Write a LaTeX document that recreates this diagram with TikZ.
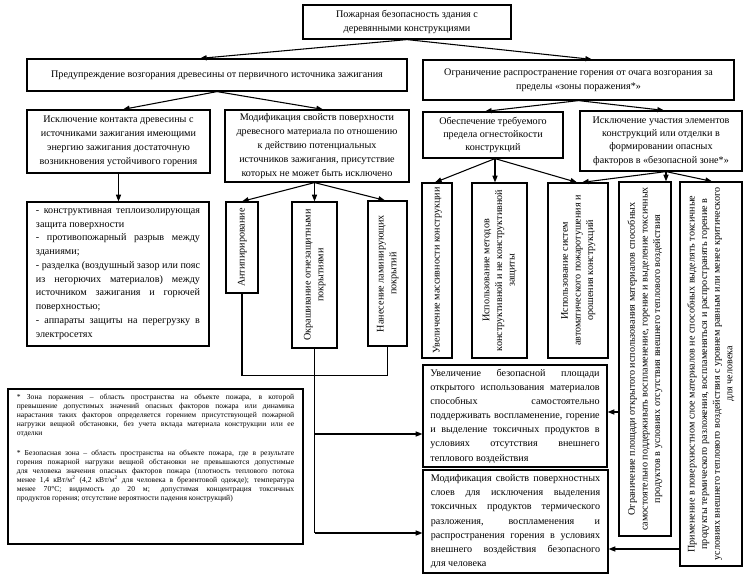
\documentclass[tikz,border=0pt]{standalone}
\usepackage{fontspec}
\setmainfont{Liberation Serif}
\usepackage{graphicx}
\usetikzlibrary{calc,arrows.meta}
\setlength\parindent{0pt}
\newcommand\mfont{\fontsize{7.6}{10.6}\selectfont}
\newcommand\vt[1]{\rotatebox{90}{\fontsize{7.6}{9.4}\selectfont\begin{tabular}{@{}c@{}}#1\end{tabular}}}
\begin{document}
\begin{tikzpicture}[x=0.75pt,y=-0.75pt,
  box/.style={draw, line width=0.9pt, inner sep=0pt, align=center, font=\mfont},
  wh/.style 2 args={minimum width=#1*0.75pt, minimum height=#2*0.75pt},
  arr/.style={-{Triangle[length=5pt,width=3.8pt]}, line width=0.8pt},
  ln/.style={line width=0.8pt}]
\fill[white] (0,0) rectangle (747,581);
\useasboundingbox (0,0) rectangle (747,581);

\node[box, wh={208}{34}] (top) at (407,22) {Пожарная безопасность здания с\\деревянными конструкциями};
\node[box, wh={380}{32}] (p1) at (217,75) {Предупреждение возгорания древесины от первичного источника зажигания};
\node[box, wh={311}{40}] (p2) at (578.5,80) {Ограничение распространение горения от очага возгорания за\\пределы «зоны поражения*»};
\node[box, wh={183}{63}] (a1) at (118.5,141.5) {Исключение контакта древесины с\\источниками зажигания имеющими\\энергию зажигания достаточную\\возникновения устойчивого горения};
\node[box, wh={184}{72}] (a2) at (317,146) {Модификация свойств поверхности\\древесного материала по отношению\\к действию потенциальных\\источников зажигания, присутствие\\которых не может быть исключено};
\node[box, wh={182}{144}, text width=123pt, align=justify, font=\fontsize{7.6}{10.3}\selectfont] (al) at (118,274) {- конструктивная теплоизолирующая\linebreak защита поверхности\\- противопожарный разрыв между\linebreak зданиями;\\- разделка (воздушный зазор или пояс\linebreak из негорючих материалов) между\linebreak источником зажигания и горючей\linebreak поверхностью;\\- аппараты защиты на перегрузку в\linebreak электросетях};
\node[box, wh={32}{91}] (v1) at (242,247.5) {\vt{Антипирирование}};
\node[box, wh={45}{146}] (v2) at (314.5,275) {\vt{Окрашивание огнезащитными\\покрытиями}};
\node[box, wh={39}{145}] (v3) at (387.5,273.5) {\vt{Нанесение ламинирующих\\покрытий}};
\node[box, wh={140}{46}, font=\fontsize{7.6}{10}\selectfont] (b1) at (493,135) {Обеспечение требуемого\\предела огнестойкости\\конструкций};
\node[box, wh={162}{60}, font=\fontsize{7.6}{10}\selectfont] (b2) at (661,141) {Исключение участия элементов\\конструкций или отделки в\\формировании опасных\\факторов в «безопасной зоне*»};
\node[box, wh={30}{175}] (c1) at (437,270.5) {\vt{Увеличение массивности конструкции}};
\node[box, wh={55}{175}] (c2) at (499.5,270.5) {\vt{Использование методов\\конструктивной и не конструктивной\\защиты}};
\node[box, wh={60}{175}] (c3) at (578,270.5) {\vt{Использование систем\\автоматического пожаротушения и\\орошения конструкций}};
\node[box, wh={52}{354}] (c4) at (645,359) {\vt{Ограничение площади открытого использования материалов способных\\самостоятельно поддерживать воспламенение, горение и выделение токсичных\\продуктов в условиях отсутствия внешнего теплового воздействия}};
\node[box, wh={62}{384}] (c5) at (711,374) {\vt{Применение в поверхностном слое материалов не способных выделять токсичные\\продукты термического разложения, воспламеняться и распространять горение в\\условиях внешнего теплового воздействия с уровнем равным или менее критического\\для человека}};
\node[box, wh={184}{102}, text width=127pt, align=justify] (d1) at (515,416) {Увеличение безопасной площади\linebreak открытого использования материалов\linebreak способных самостоятельно\linebreak поддерживать воспламенение, горение\linebreak и выделение токсичных продуктов в\linebreak условиях отсутствия внешнего\linebreak теплового воздействия};
\node[box, wh={185}{103}, text width=127pt, align=justify] (d2) at (515.5,521.5) {Модификация свойств поверхностных\linebreak слоев для исключения выделения\linebreak токсичных продуктов термического\linebreak разложения, воспламенения и\linebreak распространения горения в условиях\linebreak внешнего воздействия безопасного\linebreak для человека};
\node[box, wh={295}{155}] (foot) at (155.5,466.5) {\parbox[c][108pt][t]{208pt}{\fontsize{5.7}{6.75}\selectfont * Зона поражения – область пространства на объекте пожара, в которой\linebreak превышение допустимых значений опасных факторов пожара или динамика\linebreak нарастания таких факторов определяется горением присутствующей пожарной\linebreak нагрузки вещной обстановки, без учета вклада материала конструкции или ее\linebreak отделки\par\vspace{8pt}* Безопасная зона – область пространства на объекте пожара, где в результате\linebreak горения пожарной нагрузки вещной обстановки не превышаются допустимые\linebreak для человека значения опасных факторов пожара (плотность теплового потока\linebreak менее 1,4 кВт/м\textsuperscript{2} (4,2 кВт/м\textsuperscript{2} для человека в брезентовой одежде); температура\linebreak менее 70°С; видимость до 20 м; допустимая концентрация токсичных\linebreak продуктов горения; отсутствие вероятности падения конструкций)}};

% connectors
\draw[arr] (top.south) -- ($(p1.north)+(-17,0)$);
\draw[arr] (top.south) -- ($(p2.north)+(13.5,0)$);
\draw[arr] (p1.south) -- ($(a1.north)+(4.5,0)$);
\draw[arr] (p1.south) -- ($(a2.north)+(6,0)$);
\draw[arr] (a1.south) -- (a1.south |- al.north);
\coordinate (g0) at (v2.north |- a2.south);
\draw[arr] (g0) -- (v1.north);
\draw[arr] (g0) -- (v2.north);
\draw[arr] (g0) -- ($(v3.north)+(-2.5,0)$);
\draw[ln] (v1.south) -- ++(0,82) -| (v3.south);
\coordinate (e1) at ($(d1.west)+(0,18)$);
\coordinate (e2) at ($(d2.west)+(0,11.5)$);
\draw[ln] (v2.south) -- (v2.south |- e2);
\draw[arr] (v2.south |- e1) -- (e1);
\draw[arr] (v2.south |- e2) -- (e2);
\coordinate (f1) at ($(c4.west)+(0,53)$);
\draw[arr] (f1) -- (f1 -| d1.east);
\coordinate (f2) at ($(c5.west)+(0,175)$);
\draw[arr] (f2) -- (f2 -| d2.east);
\draw[arr] (p2.south) -- ($(b1.north)+(-8,0)$);
\draw[arr] (p2.south) -- ($(b2.north)+(3,0)$);
\coordinate (g1) at ($(b1.south)+(2,0)$);
\draw[arr] (g1) -- ($(c1.north)+(-2,0)$);
\draw[arr] (g1) -- (g1 |- c2.north);
\draw[arr] (g1) -- ($(c3.north)+(-1,0)$);
\coordinate (g2) at ($(b2.south)+(5,0)$);
\draw[arr] (g2) -- ($(c3.north)+(4,0)$);
\draw[arr] (g2) -- (g2 |- c4.north);
\draw[arr] (g2) -- ($(c5.north)+(1,0)$);
\end{tikzpicture}
\end{document}
